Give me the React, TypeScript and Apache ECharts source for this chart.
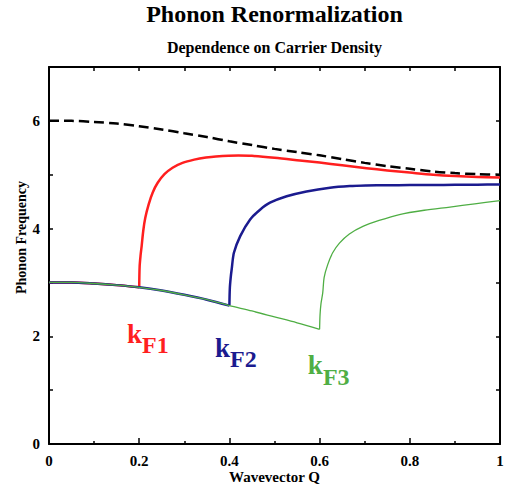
import React, { useEffect, useRef } from "react";
import * as echarts from "echarts";

const titleText = "Phonon Renormalization";
const subtitleText = "Dependence on Carrier Density";
const xAxisName = "Wavevector Q";
const yAxisName = "Phonon Frequency";

// Bare phonon dispersion (dashed black)
const bareQ = [0, 0.05, 0.1, 0.15, 0.2, 0.25, 0.3, 0.35, 0.4, 0.45, 0.5, 0.55, 0.6, 0.65, 0.7, 0.75, 0.8, 0.85, 0.9, 0.95, 1.0];
const bareW = [6.0, 6.0, 5.98, 5.95, 5.9, 5.84, 5.77, 5.7, 5.62, 5.55, 5.48, 5.42, 5.36, 5.29, 5.22, 5.16, 5.11, 5.06, 5.03, 5.01, 5.0];

// Common softened lower branch (below each kF)
const lowQ = [0, 0.05, 0.1, 0.15, 0.2, 0.25, 0.3, 0.35, 0.4, 0.45, 0.5, 0.55, 0.6];
const lowW = [3.0, 3.0, 2.98, 2.95, 2.91, 2.85, 2.77, 2.68, 2.57, 2.47, 2.36, 2.25, 2.13];

// kF values
const kF = [0.2, 0.4, 0.6];

// kF1 (red) upper branch
const redQ = [0.2, 0.201, 0.203, 0.2055, 0.209, 0.2135, 0.221, 0.23, 0.241, 0.256, 0.274, 0.296, 0.322, 0.348, 0.37, 0.42, 0.45, 0.5, 0.556, 0.6, 0.65, 0.704, 0.75, 0.8, 0.852, 0.9, 0.95, 1.0];
const redW = [2.91, 3.3, 3.5, 3.68, 3.96, 4.2, 4.45, 4.67, 4.85, 5.01, 5.13, 5.22, 5.28, 5.32, 5.34, 5.355, 5.35, 5.315, 5.265, 5.225, 5.175, 5.12, 5.08, 5.04, 5.0, 4.975, 4.958, 4.95];

// kF2 (blue) upper branch
const blueQ = [0.4, 0.401, 0.403, 0.405, 0.41, 0.424, 0.446, 0.468, 0.49, 0.527, 0.571, 0.623, 0.667, 0.704, 0.75, 0.8, 0.85, 0.9, 0.95, 1.0];
const blueW = [2.57, 2.9, 3.1, 3.24, 3.55, 3.86, 4.17, 4.35, 4.48, 4.6, 4.69, 4.76, 4.79, 4.8, 4.805, 4.807, 4.81, 4.812, 4.815, 4.82];

// kF3 (green) upper branch
const greenQ = [0.6, 0.601, 0.603, 0.607, 0.61, 0.618, 0.629, 0.644, 0.666, 0.696, 0.732, 0.777, 0.832, 0.889, 0.944, 1.0];
const greenW = [2.13, 2.4, 2.6, 2.81, 3.09, 3.33, 3.55, 3.73, 3.9, 4.04, 4.15, 4.26, 4.34, 4.4, 4.46, 4.52];

// Annotation labels (anchor in data coordinates: top-left of label)
const labelNames = ["F1", "F2", "F3"];
const labelQ = [0.173, 0.368, 0.574];
const labelW = [2.3, 2.04, 1.71];

const colors = ["#ff1f1f", "#1b1b8f", "#4fae44"];
const widths = [2.5, 2.5, 1.3];

const FONT = "'Liberation Serif', 'Times New Roman', serif";

const zip = (xs: number[], ys: number[]) => xs.map((x, i) => [x, ys[i]]);
const lowerUpTo = (k: number) => zip(lowQ, lowW).filter((p) => p[0] <= k + 1e-9);

export default function App() {
  const ref = useRef<HTMLDivElement>(null);

  useEffect(() => {
    if (!ref.current) return;
    const chart = echarts.init(ref.current, undefined, { renderer: "svg" });

    const axisLine = { show: true, onZero: false, lineStyle: { color: "#000", width: 2 } };
    const labelStyle = { color: "#000", fontFamily: FONT, fontWeight: "bold" as const, fontSize: 15 };
    const uppers = [zip(redQ, redW), zip(blueQ, blueW), zip(greenQ, greenW)];
    const names = ["kF1", "kF2", "kF3"];

    const curveSeries: any[] = [];
    names.forEach((n, i) => {
      curveSeries.push({
        name: n,
        type: "line",
        data: lowerUpTo(kF[i]),
        showSymbol: false,
        smooth: 0.3,
        lineStyle: { color: colors[i], width: widths[i] },
        itemStyle: { color: colors[i] },
        z: 2 + i,
      });
      curveSeries.push({
        name: n,
        type: "line",
        data: uppers[i],
        showSymbol: false,
        smooth: 0.3,
        lineStyle: { color: colors[i], width: widths[i], join: "round" },
        itemStyle: { color: colors[i] },
        z: 2 + i,
      });
    });

    chart.setOption({
      animation: false,
      backgroundColor: "#fff",
      grid: { left: 49, right: 13, top: 67, bottom: 44, containLabel: false },
      graphic: [
        {
          type: "text",
          x: 274.5,
          y: 14,
          style: { text: titleText, align: "center", verticalAlign: "middle", font: `bold 24px ${FONT}`, fill: "#000" },
        },
        {
          type: "text",
          x: 274.5,
          y: 47.5,
          style: { text: subtitleText, align: "center", verticalAlign: "middle", font: `bold 16px ${FONT}`, fill: "#000" },
        },
      ],
      xAxis: [
        {
          type: "value",
          position: "bottom",
          min: 0,
          max: 1,
          interval: 0.2,
          name: xAxisName,
          nameLocation: "middle",
          nameGap: 25,
          nameMoveOverlap: false,
          nameTextStyle: { ...labelStyle },
          axisLine,
          axisTick: { show: true, inside: true, length: 6, lineStyle: { color: "#000", width: 1.5 } },
          minorTick: { show: true, splitNumber: 2, length: 3, lineStyle: { color: "#000", width: 1.5 } },
          axisLabel: { ...labelStyle, margin: 9 },
          splitLine: { show: false },
          minorSplitLine: { show: false },
        },
        {
          type: "value",
          position: "top",
          min: 0,
          max: 1,
          interval: 0.1,
          axisLine,
          axisTick: { show: true, inside: true, length: 4, lineStyle: { color: "#000", width: 1.5 } },
          axisLabel: { show: false },
          splitLine: { show: false },
        },
      ],
      yAxis: [
        {
          type: "value",
          position: "left",
          min: 0,
          max: 7,
          interval: 1,
          name: yAxisName,
          nameLocation: "middle",
          nameGap: 21,
          nameMoveOverlap: false,
          nameTextStyle: { ...labelStyle, fontSize: 14, padding: [0, 0, 0, 36] },
          axisLine,
          axisTick: { show: true, inside: true, length: 4, lineStyle: { color: "#000", width: 1.5 } },
          axisLabel: {
            ...labelStyle,
            margin: 9,
            formatter: (v: number) => (v % 2 === 0 ? String(v) : ""),
          },
          splitLine: { show: false },
        },
        {
          type: "value",
          position: "right",
          min: 0,
          max: 7,
          interval: 1,
          axisLine,
          axisTick: { show: true, inside: true, length: 4, lineStyle: { color: "#000", width: 1.5 } },
          axisLabel: { show: false },
          splitLine: { show: false },
        },
      ],
      series: [
        ...curveSeries,
        {
          name: "bare",
          type: "line",
          data: zip(bareQ, bareW),
          showSymbol: false,
          smooth: 0.3,
          lineStyle: { color: "#000", width: 2.5, type: [10, 5] },
          itemStyle: { color: "#000" },
          z: 6,
        },
        {
          name: "labels",
          type: "scatter",
          symbolSize: 0,
          silent: true,
          itemStyle: { opacity: 1 },
          data: labelNames.map((n, i) => ({
            value: [labelQ[i], labelW[i]],
            label: {
              show: true,
              opacity: 1,
              position: [0, 0],
              align: "left",
              verticalAlign: "top",
              formatter: `{k|k}{s|${n}}`,
              rich: {
                k: { fontSize: 27, lineHeight: 27, fontWeight: "bold", fontFamily: FONT, color: colors[i], verticalAlign: "top", opacity: 1 },
                s: { fontSize: 24, lineHeight: 24, fontWeight: "bold", fontFamily: FONT, color: colors[i], verticalAlign: "top", padding: [13, 0, 0, 0], opacity: 1 },
              },
            },
          })),
          z: 7,
        },
      ],
    });

    return () => chart.dispose();
  }, []);

  return <div ref={ref} style={{ width: 513, height: 489, position: "absolute", left: 0, top: 0 }} />;
}
